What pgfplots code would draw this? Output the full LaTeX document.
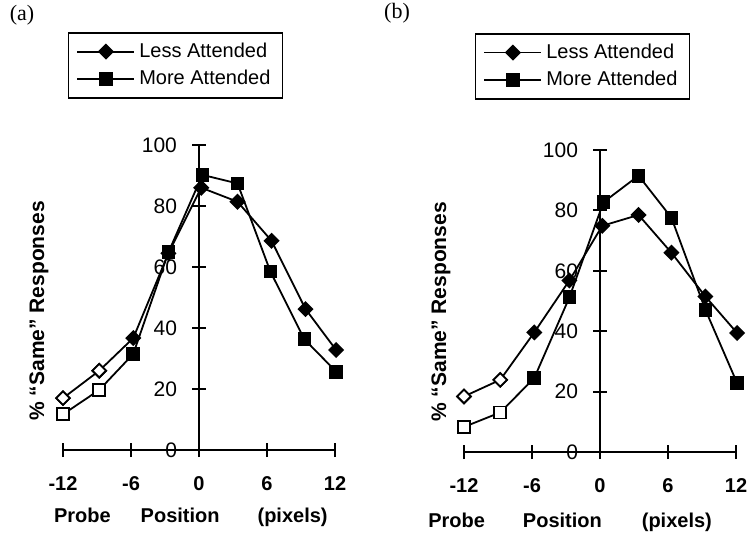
\documentclass[border=0pt]{standalone}
\usepackage{fontspec}
\setmainfont{Liberation Sans}
\newfontfamily\seriffont{Liberation Serif}
\usepackage{pgfplots}
\pgfplotsset{compat=1.18}

\pgfplotsset{
  probe/.style={
    scale only axis,
    axis lines=middle,
    axis line style={-, line width=1pt},
    xmin=-12, xmax=12, ymin=0, ymax=100,
    enlargelimits=false,
    xtick={-12,-6,0,6,12},
    ytick={0,20,...,100},
    hide obscured x ticks=false,
    hide obscured y ticks=false,
    tick align=center,
    major tick length=7pt,
    tick style={line width=1pt, black},
    /pgf/number format/assume math mode=true,
    yticklabel style={font=\fontsize{10.5}{12}\selectfont, xshift=-4pt},
    xticklabel style={font=\fontsize{10}{12}\selectfont\bfseries, yshift=-6pt},
    clip=false,
    legend cell align=left,
    legend style={draw=black, line width=0.7pt, font=\fontsize{10}{12}\selectfont,
      inner xsep=4pt, inner ysep=3pt, row sep=1pt, anchor=north west},
    legend image code/.code={\draw[line width=0.9pt, mark repeat=2, mark phase=2]
      plot coordinates {(0cm,0cm) (0.5cm,0cm) (1cm,0cm)};},
    every axis y label/.style={rotate=90, anchor=center,
      font=\fontsize{10.5}{12}\selectfont\bfseries},
    every axis x label/.style={anchor=center,
      font=\fontsize{10}{12}\selectfont\bfseries},
  },
  less/.style={black, line width=0.9pt, mark=square*, mark size=2.4pt,
    mark options={rotate=45, fill=black, solid}},
  more/.style={black, line width=0.9pt, mark=square*, mark size=3pt,
    mark options={fill=black, solid}},
  lessopen/.style={only marks, black, line width=0.9pt, mark=square*, mark size=2.4pt,
    mark options={rotate=45, fill=white}, forget plot},
  moreopen/.style={only marks, black, line width=0.9pt, mark=square*, mark size=3pt,
    mark options={fill=white}, forget plot},
}

\begin{document}
\begin{tikzpicture}
\useasboundingbox (0,0) rectangle (375pt,-266pt);

\node[font=\seriffont\fontsize{11}{13}\selectfont] at (11pt,-7.5pt) {(a)};
\node[font=\seriffont\fontsize{11}{13}\selectfont] at (198.5pt,-6.5pt) {(b)};

% panel (a)
\begin{axis}[probe,
    at={(31.5pt,-225pt)}, anchor=south west,
    width=136pt, height=152.5pt,
    ylabel={\% “Same” Responses},
    ylabel style={at={(axis description cs:-0.088,0.456)}},
    xlabel={Probe\hspace{15pt}Position\hspace{19pt}(pixels)},
    xlabel style={at={(axis description cs:0.47,-0.22)}},
    legend style={at={(axis description cs:0.018,1.37)}},
]
\addplot[less] coordinates {(-12,17) (-8.8,26) (-5.8,36.7) (-2.7,64.5) (0.2,86)
  (3.4,81.4) (6.4,68.6) (9.4,46.2) (12.1,32.8)};
\addlegendentry{Less Attended}
\addplot[more] coordinates {(-12,11.7) (-8.8,19.7) (-5.8,31.5) (-2.7,64.8) (0.3,90.2)
  (3.4,87.4) (6.3,58.5) (9.3,36.3) (12.1,25.7)};
\addlegendentry{More Attended}
\addplot[lessopen] coordinates {(-12,17) (-8.8,26)};
\addplot[moreopen] coordinates {(-12,11.7) (-8.8,19.7)};
\end{axis}

% panel (b)
\begin{axis}[probe,
    at={(232pt,-226pt)}, anchor=south west,
    width=136pt, height=151pt,
    ylabel={\% “Same” Responses},
    ylabel style={at={(axis description cs:-0.085,0.464)}},
    xlabel={Probe\hspace{19pt}Position\hspace{20pt}(pixels)},
    xlabel style={at={(axis description cs:0.39,-0.232)}},
    legend style={at={(axis description cs:0.04,1.387)}},
]
\addplot[less] coordinates {(-12,18.4) (-8.8,23.9) (-5.8,39.6) (-2.7,56.8) (0.2,74.9)
  (3.4,78.5) (6.3,66.0) (9.3,51.5) (12.1,39.4)};
\addlegendentry{Less Attended}
\addplot[more] coordinates {(-12,8.3) (-8.8,13.1) (-5.8,24.5) (-2.7,51.2) (0.3,82.7)
  (3.4,91.5) (6.3,77.6) (9.3,47.1) (12.1,22.8)};
\addlegendentry{More Attended}
\addplot[lessopen] coordinates {(-12,18.4) (-8.8,23.9)};
\addplot[moreopen] coordinates {(-12,8.3) (-8.8,13.1)};
\end{axis}
\end{tikzpicture}
\end{document}
